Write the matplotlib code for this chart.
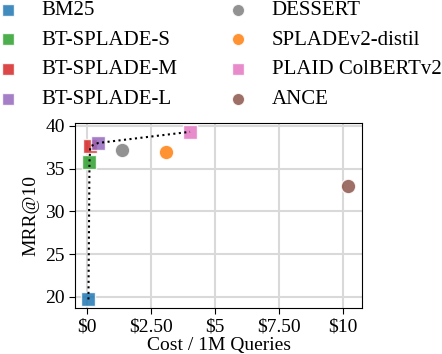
import matplotlib
matplotlib.use("Agg")
import matplotlib.pyplot as plt

plt.rcParams['font.family'] = ['Liberation Serif', 'DejaVu Serif']
plt.rcParams['mathtext.fontset'] = 'stix'

methods = ['BM25', 'BT-SPLADE-S', 'BT-SPLADE-M', 'BT-SPLADE-L',
           'DESSERT', 'SPLADEv2-distil', 'PLAID ColBERTv2', 'ANCE']
cost = [0.05, 0.09, 0.12, 0.44, 1.35, 3.07, 4.02, 10.2]
mrr = [19.7, 35.8, 37.6, 38.0, 37.2, 36.9, 39.3, 33.0]
markers = ['s', 's', 's', 's', 'o', 'o', 's', 'o']
colors = ['tab:blue', 'tab:green', 'tab:red', 'tab:purple',
          'tab:gray', 'tab:orange', 'tab:pink', 'tab:brown']
frontier = ['BM25', 'BT-SPLADE-S', 'BT-SPLADE-M', 'BT-SPLADE-L', 'PLAID ColBERTv2']
xticks = [0, 2.5, 5, 7.5, 10]
xticklabels = [r'\$0', r'\$2.50', r'\$5', r'\$7.50', r'\$10']
yticks = [20, 25, 30, 35, 40]

fig = plt.figure(figsize=(4.42, 3.54), dpi=100)
ax = fig.add_axes([0.170, 0.130, 0.649, 0.523])

fx = [cost[methods.index(m)] for m in frontier]
fy = [mrr[methods.index(m)] for m in frontier]
ax.plot(fx, fy, color='black', linestyle=':', linewidth=1.5, zorder=3)

for m, c, y, mk, col in zip(methods, cost, mrr, markers, colors):
    ax.scatter(c, y, marker=mk, s=110, color=col, alpha=0.85,
               edgecolors='white', linewidths=1.0, label=m, zorder=2)

ax.set_xlim(-0.47, 10.74)
ax.set_ylim(18.7, 40.35)
ax.set_xticks(xticks)
ax.set_xticklabels(xticklabels)
ax.set_yticks(yticks)
ax.grid(True, color='#d9d9d9', linewidth=1.5)
ax.set_axisbelow(True)
ax.tick_params(labelsize=14, length=4)
ax.set_xlabel('Cost / 1M Queries', fontsize=14, labelpad=1)
ax.set_ylabel('MRR@10', fontsize=14, labelpad=4)

fig.legend(loc='upper left', bbox_to_anchor=(-0.049, 1.051), ncol=2,
           frameon=False, fontsize=15, handlelength=1.0, handletextpad=1.13,
           columnspacing=2.4, labelspacing=0.48, markerscale=0.85)

fig.savefig('out.png', dpi=100)
